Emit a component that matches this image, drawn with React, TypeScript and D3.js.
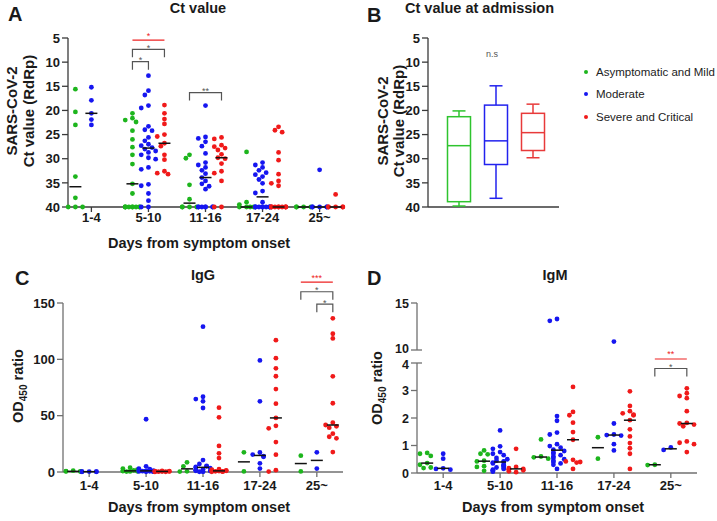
import React, { useRef, useEffect } from 'react';
import * as d3 from 'd3';

const categories = ['1-4', '5-10', '11-16', '17-24', '25~'];
const groups = ['Asymptomatic and Mild', 'Moderate', 'Severe and Critical'];
const groupColors = ['#1db51d', '#1616f0', '#f01a1a'];
const boxColors = ['#2ec42e', '#2222ee', '#e83a3a'];

// Panel A: Ct value by days from onset (one array per category)
const ctMild = [
  [15.6, 20.3, 23.0, 33.7, 38.1, 40, 40, 40],
  [20.6, 21.6, 22.0, 22.4, 24.2, 26.0, 27.6, 29.2, 31.1, 35.2, 37.2, 40, 40, 40, 40, 40, 40, 40, 40, 40],
  [29.2, 29.9, 35.4, 38.4, 40, 40, 40, 40],
  [28.6, 39.0, 39.5, 40, 40, 40, 40],
  [40, 40, 40, 40],
];
const ctModerate = [
  [15.2, 17.9, 20.6, 21.9, 23.0],
  [12.8, 15.9, 16.8, 19.0, 19.5, 23.3, 24.0, 24.2, 25.6, 26.3, 27.0, 27.3, 27.7, 28.0, 28.4, 28.7, 29.2, 29.8, 30.1, 31.8, 32.2, 35.3, 35.6, 37.2, 38.7, 40, 40],
  [19.0, 25.5, 25.8, 26.5, 27.4, 28.9, 30.8, 31.3, 31.8, 32.4, 33.1, 33.9, 34.6, 35.2, 35.7, 36.3, 40, 40, 40, 40, 40, 40, 40],
  [30.8, 31.3, 31.8, 32.4, 32.9, 33.3, 33.7, 34.3, 35.1, 36.7, 37.1, 39.0, 40, 40, 40, 40, 40, 40, 40, 40, 40, 40],
  [32.3, 40, 40, 40, 40, 40],
];
const ctSevere = [
  [],
  [18.9, 20.6, 21.8, 22.8, 25.0, 25.4, 26.8, 27.4, 29.2, 30.2, 32.6, 33.0, 33.2],
  [25.6, 25.9, 27.2, 27.5, 27.8, 28.2, 29.1, 29.8, 30.0, 31.0, 32.6, 33.0, 34.6, 40, 40],
  [23.4, 24.1, 24.5, 28.7, 30.3, 33.2, 34.6, 35.1, 35.6, 40, 40, 40, 40, 40, 40, 40, 40, 40, 40],
  [37.4, 40, 40, 40, 40, 40],
];
const ctMildMed = [35.8, 35.2, 39.2, 40, 40];
const ctModerateMed = [20.6, 27.8, 33.9, 37.9, 40];
const ctSevereMed = [null, 26.8, 29.8, 40, 40];

// Panel B: box stats [min, q1, median, q3, max]
const admissionBoxes = [
  [20.1, 21.3, 27.3, 38.9, 39.8],
  [14.9, 18.9, 26.3, 31.2, 38.2],
  [18.7, 20.6, 24.6, 28.3, 29.8],
];

// Panel C: IgG
const iggMild = [
  [1.2, 0.8, 0.6, 0.5, 0.4],
  [3.8, 3.0, 2.0, 1.5, 1.0, 0.8, 0.6, 0.5, 0.4],
  [8.6, 5.0, 0.6, 0.4],
  [17.5, 0.5],
  [14.5, 0.5],
];
const iggModerate = [
  [0.4, 0.3, 0.3, 0.2, 0.2],
  [46.8, 5.0, 3.0, 2.5, 2.0, 1.5, 1.2, 1.0, 0.8, 0.7, 0.6, 0.5, 0.4, 0.3, 0.2],
  [129, 66.8, 64.7, 62.7, 56.8, 10.6, 7.1, 5.5, 5.0, 4.5, 4.1, 3.5, 2.5, 2.0, 1.5, 1.0, 0.8, 0.5, 0.3, 0.2],
  [99, 62.7, 17.3, 15.5, 14.0, 13.5, 7.7, 3.0],
  [17.5, 3.0],
];
const iggSevere = [
  [],
  [1.0, 0.8, 0.7, 0.6, 0.5, 0.4, 0.3, 0.2, 0.1],
  [57.1, 48.5, 23.1, 16.6, 12.4, 2.5, 2.0, 1.5, 1.2, 1.0, 0.8, 0.6, 0.5, 0.3, 0.2],
  [117, 101, 92, 85, 73.6, 60.6, 48, 41, 38.8, 26.6, 15.4, 1.6, 0.4],
  [136.4, 122.7, 118.6, 84.9, 61, 43.8, 41.7, 40.5, 39.3, 34, 31.3, 29.9, 17.7],
];
const iggMildMed = [0.6, 1.0, 2.8, 9.0, 7.5];
const iggModerateMed = [0.3, 1.0, 4.1, 14.7, 10.3];
const iggSevereMed = [null, 0.5, 1.0, 48, 41.7];

// Panel D: IgM
const igmMild = [
  [0.73, 0.70, 0.62, 0.36, 0.30, 0.20, 0.18],
  [0.82, 0.70, 0.68, 0.45, 0.42, 0.25, 0.22, 0.08],
  [1.22, 0.60, 0.57, 0.52],
  [1.30, 0.52],
  [0.30, 0.29],
];
const igmModerate = [
  [0.70, 0.52, 0.17, 0.15, 0.12],
  [1.55, 0.97, 0.88, 0.76, 0.70, 0.65, 0.55, 0.50, 0.45, 0.42, 0.40, 0.38, 0.35, 0.30, 0.28, 0.25, 0.20, 0.18, 0.15, 0.12, 0.10, 0.08, 0.05],
  [13.3, 13.1, 2.07, 1.90, 1.47, 1.40, 1.05, 0.98, 0.92, 0.85, 0.80, 0.75, 0.70, 0.65, 0.60, 0.55, 0.50, 0.45, 0.40, 0.35, 0.30, 0.15],
  [10.9, 1.80, 1.40, 1.38, 1.36, 1.05, 0.82],
  [0.84, 0.93],
];
const igmSevere = [
  [],
  [0.88, 0.22, 0.18, 0.15, 0.14, 0.12, 0.10, 0.06, 0.03],
  [3.13, 2.22, 2.10, 1.83, 1.49, 1.21, 0.48, 0.42, 0.40, 0.38, 0.15],
  [2.97, 2.44, 2.25, 2.17, 2.12, 2.10, 1.92, 1.59, 1.33, 1.09, 0.90, 0.70, 0.15],
  [3.08, 2.90, 2.80, 2.72, 2.25, 1.82, 1.80, 1.76, 1.70, 1.15, 1.10, 1.05, 0.76],
];
const igmMildMed = [0.36, 0.43, 0.58, 0.92, 0.30];
const igmModerateMed = [0.17, 0.40, 0.83, 1.38, 0.88];
const igmSevereMed = [null, 0.15, 1.21, 1.92, 1.80];

// significance annotations (y in data units)
const sigCt = [
  { cat: 1, from: 0, to: 1, y: 9.9, label: '*', red: false },
  { cat: 1, from: 0, to: 2, y: 7.35, label: '*', red: false },
  { cat: 1, from: 0, to: 2, y: 5.45, label: '*', red: true },
  { cat: 2, from: 0, to: 2, y: 16.3, label: '**', red: false },
];
const sigIgG = [
  { cat: 4, from: 0, to: 2, y: 168.5, label: '***', red: true },
  { cat: 4, from: 0, to: 2, y: 160, label: '*', red: false },
  { cat: 4, from: 1, to: 2, y: 149, label: '*', red: false },
];
const sigIgM = [
  { cat: 4, from: 0, to: 2, y: 5.85, label: '**', red: true },
  { cat: 4, from: 0, to: 2, y: 3.8, label: '*', red: false },
];

const ctTicks = [5, 10, 15, 20, 25, 30, 35, 40];
const iggTicks = [0, 50, 100, 150];
const igmTicks = [0, 1, 2, 3, 4, 10, 15];

const FONT = 'Arial, "Liberation Sans", Helvetica, sans-serif';
const R = 2.4;

// simple beeswarm: horizontal offsets so dots don't overlap too much
function swarm(ys, r, maxOff) {
  const idx = ys.map((_, i) => i).sort((a, b) => ys[a] - ys[b]);
  const step = r * 1.5;
  const slots = [0];
  for (let k = 1; k * step <= maxOff + 0.01; k++) slots.push(-k * step, k * step);
  const placed = [];
  const out = new Array(ys.length).fill(0);
  idx.forEach((i) => {
    const y = ys[i];
    let pick = slots.find((s) => placed.every((p) => Math.hypot(p.x - s, p.y - y) >= r * 1.9));
    if (pick === undefined) {
      const near = placed.filter((p) => Math.abs(p.y - y) < r).length;
      pick = slots[near % slots.length];
    }
    placed.push({ x: pick, y });
    out[i] = pick;
  });
  return out;
}

function App() {
  const svgRef = useRef(null);

  useEffect(() => {
    const svg = d3.select(svgRef.current);
    svg.selectAll('*').remove();

    const groupOffset = d3.scaleLinear().domain([0, 2]).range([-16, 16]);

    const text = (x, y, str, size, opts = {}) => {
      const t = svg.append('text')
        .attr('x', x).attr('y', y)
        .attr('font-size', size)
        .attr('font-weight', opts.bold === false ? 'normal' : 'bold')
        .attr('fill', opts.fill || '#1a1a1a')
        .attr('text-anchor', opts.anchor || 'start')
        .text(str);
      return t;
    };

    // nudge: extra px shift per tick label (for the axis break)
    const yAxis = (x, y, ticks, segments, color, breakTicks = [], size = 13, nudge = {}) => {
      segments.forEach(([a, b]) => {
        svg.append('line')
          .attr('x1', x).attr('x2', x).attr('y1', y(a)).attr('y2', y(b))
          .attr('stroke', color).attr('stroke-width', 1.3);
      });
      ticks.forEach((t) => {
        const brk = breakTicks.includes(t);
        svg.append('line')
          .attr('x1', x - 6).attr('x2', brk ? x + 5 : x)
          .attr('y1', y(t)).attr('y2', y(t))
          .attr('stroke', color).attr('stroke-width', 1.3);
        text(x - 8, y(t) + (nudge[t] || 0), t, size, { anchor: 'end' }).attr('dy', '0.36em');
      });
    };

    const xAxis = (x0, x1, yPos, xs, color, labelDy, withTicks = true) => {
      svg.append('line')
        .attr('x1', x0).attr('x2', x1).attr('y1', yPos).attr('y2', yPos)
        .attr('stroke', color).attr('stroke-width', 1.3);
      if (!withTicks) return;
      categories.forEach((c) => {
        svg.append('line')
          .attr('x1', xs(c)).attr('x2', xs(c)).attr('y1', yPos).attr('y2', yPos + 5)
          .attr('stroke', color).attr('stroke-width', 1.3);
        text(xs(c), yPos + labelDy, c, 13, { anchor: 'middle' });
      });
    };

    const dots = (series, medians, xs, y) => {
      series.forEach((byCat, gi) => {
        byCat.forEach((vals, ci) => {
          const cx = xs(categories[ci]) + groupOffset(gi);
          const ys = vals.map((v) => y(v));
          const offs = swarm(ys, R, 7.2);
          svg.append('g').selectAll('circle')
            .data(vals)
            .enter()
            .append('circle')
            .attr('cx', (d, i) => cx + offs[i])
            .attr('cy', (d, i) => ys[i])
            .attr('r', R)
            .attr('fill', groupColors[gi]);
        });
      });
      medians.forEach((meds, gi) => {
        meds.forEach((m, ci) => {
          if (m === null) return;
          const cx = xs(categories[ci]) + groupOffset(gi);
          svg.append('line')
            .attr('x1', cx - 6).attr('x2', cx + 6)
            .attr('y1', y(m)).attr('y2', y(m))
            .attr('stroke', '#111').attr('stroke-width', 1.5);
        });
      });
    };

    const brackets = (sigs, xs, y) => {
      sigs.forEach((s) => {
        const xa = xs(categories[s.cat]) + groupOffset(s.from);
        const xb = xs(categories[s.cat]) + groupOffset(s.to);
        const yy = y(s.y);
        const col = s.red ? '#ee2222' : '#555';
        if (s.red) {
          svg.append('line').attr('x1', xa).attr('x2', xb).attr('y1', yy).attr('y2', yy)
            .attr('stroke', col).attr('stroke-width', 1.2);
        } else {
          svg.append('path')
            .attr('d', `M${xa},${yy + 8}V${yy}H${xb}V${yy + 8}`)
            .attr('fill', 'none').attr('stroke', col).attr('stroke-width', 1.2);
        }
        text((xa + xb) / 2, yy + (s.red ? -1.5 : 1.5), s.label, 9, { anchor: 'middle', fill: col, bold: false });
      });
    };

    const yTitle = (y, lines, size) => {
      lines.forEach((l) => {
        svg.append('text')
          .attr('transform', `translate(${l.x},${y}) rotate(-90)`)
          .attr('text-anchor', 'middle')
          .attr('font-size', size)
          .attr('font-weight', 'bold')
          .attr('fill', '#1a1a1a')
          .text(l.t);
      });
    };

    const odTitle = (x, y) => {
      const t = svg.append('text')
        .attr('transform', `translate(${x},${y}) rotate(-90)`)
        .attr('text-anchor', 'middle')
        .attr('font-size', 14.5)
        .attr('font-weight', 'bold')
        .attr('fill', '#1a1a1a');
      t.append('tspan').text('OD');
      t.append('tspan').attr('font-size', 10).attr('dy', 4).text('450');
      t.append('tspan').attr('dy', -4).text(' ratio');
    };

    // ---------- Panel A ----------
    const xA = d3.scalePoint().domain(categories).range([68, 343]).padding(0.41);
    const yCt = d3.scaleLinear().domain([5, 40]).range([38, 207]);
    yAxis(68, yCt, ctTicks, [[5, 40]], '#3a3a3a');
    xAxis(68, 343, 207, xA, '#3a3a3a', 15);
    dots([ctMild, ctModerate, ctSevere], [ctMildMed, ctModerateMed, ctSevereMed], xA, yCt);
    brackets(sigCt, xA, yCt);
    text(8, 21, 'A', 20);
    text(198, 13, 'Ct value', 14.5, { anchor: 'middle' });
    yTitle(111, [{ x: 17, t: 'SARS-CoV-2' }, { x: 34, t: 'Ct value (RdRp)' }], 15);
    text(199, 248, 'Days from symptom onset', 14.5, { anchor: 'middle' });

    // ---------- Panel B ----------
    const xB = d3.scalePoint().domain(groups).range([459, 533]);
    yAxis(428, yCt, ctTicks, [[5, 40]], '#3a3a3a');
    xAxis(428, 559, 207, xB, '#3a3a3a', 15, false);
    admissionBoxes.forEach((b, gi) => {
      const cx = xB(groups[gi]);
      const col = boxColors[gi];
      const g = svg.append('g').attr('stroke', col).attr('stroke-width', 1.5).attr('fill', 'none');
      g.append('line').attr('x1', cx).attr('x2', cx).attr('y1', yCt(b[0])).attr('y2', yCt(b[1]));
      g.append('line').attr('x1', cx).attr('x2', cx).attr('y1', yCt(b[3])).attr('y2', yCt(b[4]));
      g.append('line').attr('x1', cx - 6.5).attr('x2', cx + 6.5).attr('y1', yCt(b[0])).attr('y2', yCt(b[0]));
      g.append('line').attr('x1', cx - 6.5).attr('x2', cx + 6.5).attr('y1', yCt(b[4])).attr('y2', yCt(b[4]));
      g.append('rect').attr('x', cx - 11.5).attr('width', 23)
        .attr('y', yCt(b[1])).attr('height', yCt(b[3]) - yCt(b[1]));
      g.append('line').attr('x1', cx - 11.5).attr('x2', cx + 11.5).attr('y1', yCt(b[2])).attr('y2', yCt(b[2]));
    });
    text(492, 57, 'n.s', 9, { anchor: 'middle', fill: '#555', bold: false });
    text(367, 22, 'B', 20);
    text(405, 13, 'Ct value at admission', 14.5);
    yTitle(121, [{ x: 388, t: 'SARS-CoV-2' }, { x: 404, t: 'Ct value (RdRp)' }], 15);

    // legend
    groups.forEach((gname, i) => {
      const ly = [72, 94, 117][i];
      svg.append('circle').attr('cx', 586).attr('cy', ly).attr('r', 2).attr('fill', groupColors[i]);
      text(596, ly + 4, gname, 11.5, { bold: false, fill: '#222' });
    });

    // ---------- Panel C ----------
    const xC = d3.scalePoint().domain(categories).range([63, 343]).padding(0.46);
    const yIgG = d3.scaleLinear().domain([0, 150]).range([472, 303]);
    yAxis(63, yIgG, iggTicks, [[0, 150]], '#707070');
    xAxis(63, 343, 472, xC, '#707070', 18);
    dots([iggMild, iggModerate, iggSevere], [iggMildMed, iggModerateMed, iggSevereMed], xC, yIgG);
    brackets(sigIgG, xC, yIgG);
    text(15, 285, 'C', 20);
    text(203, 280, 'IgG', 14.5, { anchor: 'middle' });
    odTitle(23, 386);
    text(199, 512, 'Days from symptom onset', 14.5, { anchor: 'middle' });

    // ---------- Panel D ----------
    const xD = d3.scalePoint().domain(categories).range([417, 697]).padding(0.46);
    const yIgM = d3.scaleLinear().domain([0, 4, 10, 15]).range([473, 363, 350, 303]);
    yAxis(417, yIgM, igmTicks, [[0, 4], [10, 15]], '#707070', [4, 10], 12.5, { 10: -2, 4: 1.5 });
    xAxis(417, 697, 473, xD, '#707070', 17);
    dots([igmMild, igmModerate, igmSevere], [igmMildMed, igmModerateMed, igmSevereMed], xD, yIgM);
    brackets(sigIgM, xD, yIgM);
    text(367, 285, 'D', 20);
    text(555, 280, 'IgM', 14.5, { anchor: 'middle' });
    odTitle(382, 388);
    text(553, 512, 'Days from symptom onset', 14.5, { anchor: 'middle' });
  }, []);

  return (
    <div style={{ position: 'absolute', left: 0, top: 0 }}>
      <svg ref={svgRef} width={717} height={521} style={{ display: 'block', fontFamily: FONT, background: '#fff' }} />
    </div>
  );
}

export default App;
